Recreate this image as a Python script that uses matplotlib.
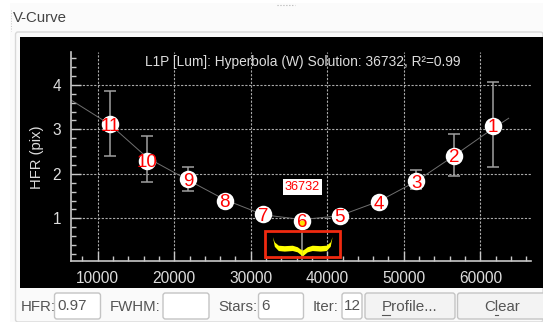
import matplotlib
matplotlib.use("Agg")
import matplotlib.pyplot as plt
from matplotlib.patches import FancyBboxPatch, Rectangle
from matplotlib.lines import Line2D
from matplotlib.ticker import MultipleLocator
from matplotlib.transforms import IdentityTransform

W, H = 543, 322

# focus run
labels = ["1", "2", "3", "4", "5", "6", "7", "8", "9", "10", "11"]
position = [61660, 56600, 51600, 46700, 41650, 36732, 31650, 26600, 21800, 16500, 11600]
hfr = [3.08, 2.41, 1.83, 1.36, 1.06, 0.95, 1.09, 1.40, 1.88, 2.30, 3.11]
err_low = [0.92, 0.46, 0.18, 0.06, 0.05, 0.04, 0.05, 0.07, 0.26, 0.49, 0.70]
err_high = [0.98, 0.49, 0.25, 0.06, 0.05, 0.04, 0.05, 0.07, 0.28, 0.56, 0.76]

# fitted curve
curve_x = [6514, 11600, 16500, 21800, 26600, 31650, 36732, 41650, 46700, 51600, 56600, 61660, 63700]
curve_y = [3.66, 3.11, 2.36, 1.86, 1.42, 1.08, 0.97, 1.06, 1.38, 1.83, 2.41, 3.02, 3.25]

solution = 36732
title = "L1P [Lum]: Hyperbola (W) Solution: 36732, R²=0.99"

# yellow brace under the solution, offsets from the solution on the left side
brace_dx = [-3900, -3650, -3130, -2350, -1300, -650, -260, 0]
brace_top = [0.590, 0.470, 0.395, 0.385, 0.395, 0.360, 0.310, 0.285]
brace_low = [0.590, 0.370, 0.275, 0.262, 0.275, 0.245, 0.190, 0.150]

plt.rcParams["font.family"] = ["Liberation Sans", "DejaVu Sans"]

fig = plt.figure(figsize=(W / 100, H / 100), dpi=100, facecolor="#ffffff")


def fx(px):
    return px / W


def fy(py):
    return 1 - py / H


def box(x0, y0, x1, y1, fc, ec, lw=1.0, rounded=True):
    # widget rectangle given in pixels, top-left origin
    style = "round,pad=0,rounding_size=2.5" if rounded else "square,pad=0"
    p = FancyBboxPatch((x0, H - y1), x1 - x0, y1 - y0, boxstyle=style, fc=fc, ec=ec, lw=lw,
                       transform=IdentityTransform())
    fig.add_artist(p)


def label(px, py, s, **kw):
    kw.setdefault("color", "#555555")
    kw.setdefault("fontsize", 10.8)
    kw.setdefault("va", "center")
    fig.text(fx(px), fy(py), s, **kw)


# window and group box
box(10, 3, 543, 322, "#fbfbfb", "none", rounded=False)
box(15.5, 32, 543, 322, "#fafafa", "#d8d8d8")
box(20, 36.5, 543, 288, "#000000", "none", rounded=False)
fig.add_artist(Line2D([fx(11), fx(11)], [fy(10), fy(31)], color="#c8c8c8", lw=0.7, ls=":"))
fig.add_artist(Line2D([fx(277), fx(295)], [fy(4.5), fy(4.5)], color="#b0b0b0", lw=0.8, ls=":"))
label(13, 18, "V-Curve", fontsize=10.8, color="#444444")

# bottom row
label(20.5, 307, "HFR:")
box(54.5, 293, 100.5, 319, "#ffffff", "#c4c4c4")
label(57.5, 306, "0.97", fontsize=11)
label(110, 307, "FWHM:")
box(163, 293, 209, 319, "#ffffff", "#c4c4c4")
label(218, 307, "Stars:")
box(258.5, 293, 303.5, 319, "#ffffff", "#c4c4c4")
label(261.5, 306, "6", fontsize=11)
label(313, 307, "Iter:")
box(342, 293, 362, 319, "#ffffff", "#c4c4c4")
label(352, 306, "12", fontsize=11, ha="center")
box(365, 293, 455, 319, "#f3f3f3", "#c4c4c4")
label(410, 307, "Profile...", ha="center", fontsize=11)
box(457.5, 293, 560, 319, "#f3f3f3", "#c4c4c4")
label(502, 307, "Clear", ha="center")
fig.add_artist(Line2D([fx(382), fx(390)], [fy(314.5), fy(314.5)], color="#555555", lw=0.8))
fig.add_artist(Line2D([fx(495), fx(498)], [fy(314.5), fy(314.5)], color="#555555", lw=0.8))

# chart
ax = fig.add_axes([fx(71), fy(261), (531 - 71) / W, (261 - 52) / H], facecolor="#000000")
ax.set_zorder(5)
ax.set_xlim(6514, 66620)
ax.set_ylim(0.04, 4.74)
for side in ("top", "right"):
    ax.spines[side].set_visible(False)
for side in ("left", "bottom"):
    ax.spines[side].set_color("#c8c8c8")
    ax.spines[side].set_linewidth(1.2)
ax.xaxis.set_major_locator(MultipleLocator(10000))
ax.xaxis.set_minor_locator(MultipleLocator(2000))
ax.yaxis.set_major_locator(MultipleLocator(1))
ax.yaxis.set_minor_locator(MultipleLocator(0.2))
ax.tick_params(which="major", direction="in", length=7, width=1, color="#c8c8c8",
               labelcolor="#dddddd", labelsize=11.2, pad=7)
ax.tick_params(which="minor", direction="in", length=3.5, width=1, color="#c8c8c8")
ax.grid(True, which="major", color="#aaaaaa", lw=0.8, ls=(0, (2, 1.4)))
ax.set_axisbelow(True)
fig.text(fx(37), fy(157), "HFR (pix)", rotation=90, color="#dddddd", fontsize=10.6,
         ha="center", va="center", zorder=10)

ax.plot(curve_x, curve_y, color="#707070", lw=0.7, zorder=2)
ax.errorbar(position, hfr, yerr=[err_low, err_high], fmt="none", ecolor="#a0a0a0",
            elinewidth=1.1, capsize=4, capthick=1.1, zorder=3)
ax.plot(position, hfr, "o", color="white", ms=12.6, mew=0, zorder=4)
ax.plot([solution, solution], [0.04, hfr[labels.index("6")]], color="#a0a0a0", lw=1.1, zorder=3)

for x, y, s in zip(position, hfr, labels):
    ax.text(x, y, s, color="#ff0000", fontsize=13.5, ha="center", va="center_baseline", zorder=6)
ax.plot([solution], [hfr[labels.index("6")] - 0.05], "o", color="#ffe000", ms=4.5, mew=0, zorder=5)

# brace and the red box drawn around it
left_x = [solution + d for d in brace_dx]
right_x = [solution - d for d in brace_dx]
ax.fill_between(left_x, brace_low, brace_top, color="#ffff00", lw=0, zorder=3)
ax.fill_between(right_x, brace_low, brace_top, color="#ffff00", lw=0, zorder=3)
ax.add_patch(Rectangle((31900, 0.128), 9790, 0.586, fc="none", ec="#f02a10", lw=2.0, zorder=5))

ax.text(solution, 1.7, str(solution), color="#ff0000", fontsize=9.2, ha="center", va="center",
        bbox=dict(fc="white", ec="none", pad=1.4), zorder=6)
fig.text(fx(145), fy(62), title, color="#dddddd", fontsize=9.9, va="center", zorder=10)

fig.savefig("out.png", dpi=100, facecolor=fig.get_facecolor())
